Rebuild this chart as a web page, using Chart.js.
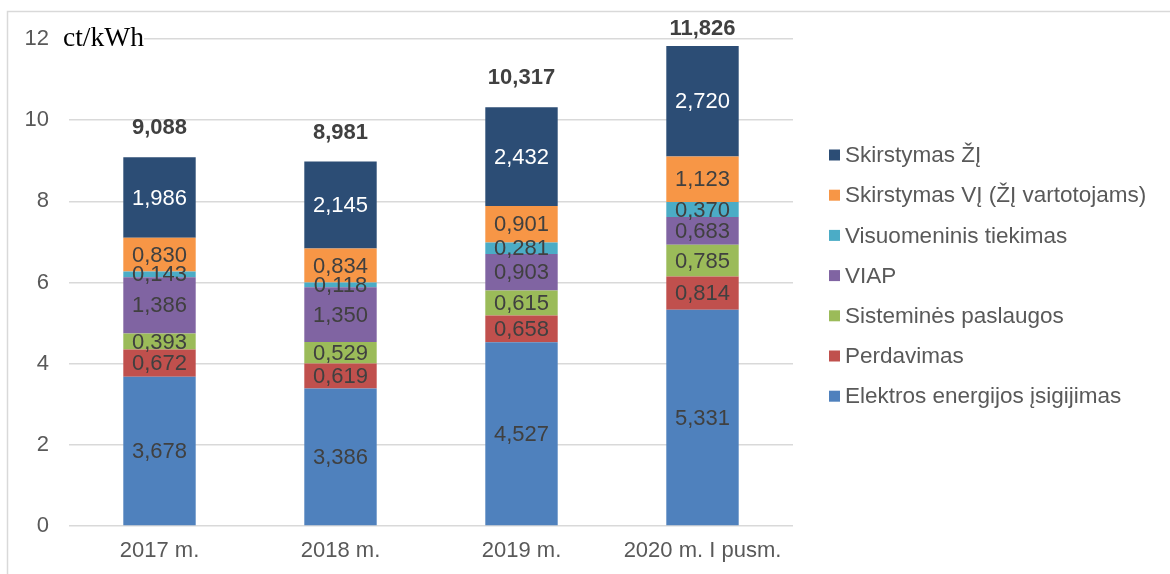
<!DOCTYPE html>
<html><head><meta charset="utf-8">
<script src="https://cdn.jsdelivr.net/npm/chart.js@4/dist/chart.umd.min.js"></script>
<style>html,body{margin:0;padding:0;background:#fff;} canvas{display:block}</style>
</head><body>
<canvas id="c" width="1170" height="574"></canvas>
<script>
const categories = ['2017 m.', '2018 m.', '2019 m.', '2020 m. I pusm.'];
const elektros = [3.678, 3.386, 4.527, 5.331];
const perdavimas = [0.672, 0.619, 0.658, 0.814];
const sistemines = [0.393, 0.529, 0.615, 0.785];
const viap = [1.386, 1.350, 0.903, 0.683];
const visuomeninis = [0.143, 0.118, 0.281, 0.370];
const skirstymasVI = [0.830, 0.834, 0.901, 1.123];
const skirstymasZI = [1.986, 2.145, 2.432, 2.720];
const totals = [9.088, 8.981, 10.317, 11.826];
const yTicks = [0, 2, 4, 6, 8, 10, 12];
const unitLabel = 'ct/kWh';

const FONT = '"Liberation Sans", Arial, sans-serif';
const fmt = v => v.toFixed(3).replace('.', ',');

const series = [
  {label: 'Elektros energijos įsigijimas', data: elektros, color: '#4f81bd', text: '#404040'},
  {label: 'Perdavimas', data: perdavimas, color: '#c0504d', text: '#404040'},
  {label: 'Sisteminės paslaugos', data: sistemines, color: '#9bbb59', text: '#404040'},
  {label: 'VIAP', data: viap, color: '#8064a2', text: '#404040'},
  {label: 'Visuomeninis tiekimas', data: visuomeninis, color: '#4bacc6', text: '#404040'},
  {label: 'Skirstymas VĮ (ŽĮ vartotojams)', data: skirstymasVI, color: '#f79646', text: '#404040'},
  {label: 'Skirstymas ŽĮ', data: skirstymasZI, color: '#2c4d75', text: '#ffffff'}
];

const decor = {
  id: 'decor',
  afterDatasetsDraw(chart) {
    const ctx = chart.ctx;
    ctx.save();
    ctx.font = '22px ' + FONT;
    ctx.textAlign = 'center';
    ctx.textBaseline = 'middle';
    chart.data.datasets.forEach((ds, di) => {
      const meta = chart.getDatasetMeta(di);
      meta.data.forEach((bar, i) => {
        ctx.fillStyle = series[di].text;
        ctx.fillText(fmt(ds.data[i]), bar.x, (bar.y + bar.base) / 2 + 1);
      });
    });
    const ys = chart.scales.y;
    const lastMeta = chart.getDatasetMeta(chart.data.datasets.length - 1);
    ctx.font = 'bold 22px ' + FONT;
    ctx.fillStyle = '#404040';
    totals.forEach((t, i) => {
      const x = lastMeta.data[i].x;
      const top = ys.getPixelForValue(t);
      ctx.fillText(fmt(t), x, Math.max(top - 29, 29));
    });
    ctx.restore();
  },
  afterDraw(chart) {
    const ctx = chart.ctx;
    ctx.save();
    ctx.strokeStyle = '#d9d9d9';
    ctx.lineWidth = 1.5;
    ctx.beginPath();
    ctx.moveTo(7.5, 574);
    ctx.lineTo(7.5, 11.5);
    ctx.lineTo(1170, 11.5);
    ctx.stroke();
    ctx.font = '27.5px "Liberation Serif", "Times New Roman", serif';
    const w = ctx.measureText(unitLabel).width;
    ctx.fillStyle = '#ffffff';
    ctx.fillRect(62, 30, w + 1, 14);
    ctx.fillStyle = '#000000';
    ctx.textAlign = 'left';
    ctx.textBaseline = 'alphabetic';
    ctx.fillText(unitLabel, 63, 46);
    ctx.font = '22.5px ' + FONT;
    ctx.textBaseline = 'middle';
    const n = series.length;
    for (let k = 0; k < n; k++) {
      const s = series[n - 1 - k];
      const cy = 155 + k * 40.2;
      ctx.fillStyle = s.color;
      ctx.fillRect(829, cy - 5.5, 11, 11);
      ctx.fillStyle = '#595959';
      ctx.fillText(s.label, 845, cy + 1);
    }
    ctx.restore();
  }
};

new Chart(document.getElementById('c'), {
  type: 'bar',
  data: {
    labels: categories,
    datasets: series.map(s => ({
      label: s.label,
      data: s.data,
      backgroundColor: s.color,
      borderWidth: 0,
      categoryPercentage: 1.0,
      barPercentage: 0.4
    }))
  },
  options: {
    responsive: false,
    animation: false,
    devicePixelRatio: 1,
    layout: {padding: {left: 0, right: 377, top: 39, bottom: 0}},
    plugins: {legend: {display: false}, tooltip: {enabled: false}, title: {display: false}},
    scales: {
      x: {
        stacked: true,
        grid: {display: false, drawTicks: false},
        border: {display: false},
        ticks: {color: '#595959', font: {family: FONT, size: 22}, padding: 12, maxRotation: 0, autoSkip: false},
        afterFit(scale) { scale.height = 48; }
      },
      y: {
        stacked: true,
        min: 0, max: 12,
        afterBuildTicks(scale) { scale.ticks = yTicks.map(v => ({value: v})); },
        grid: {color: '#d9d9d9', lineWidth: 1.5, drawTicks: false},
        border: {display: false},
        ticks: {color: '#595959', font: {family: FONT, size: 22}, padding: 20},
        afterFit(scale) { scale.width = 69; }
      }
    }
  },
  plugins: [decor]
});
</script>
</body></html>
